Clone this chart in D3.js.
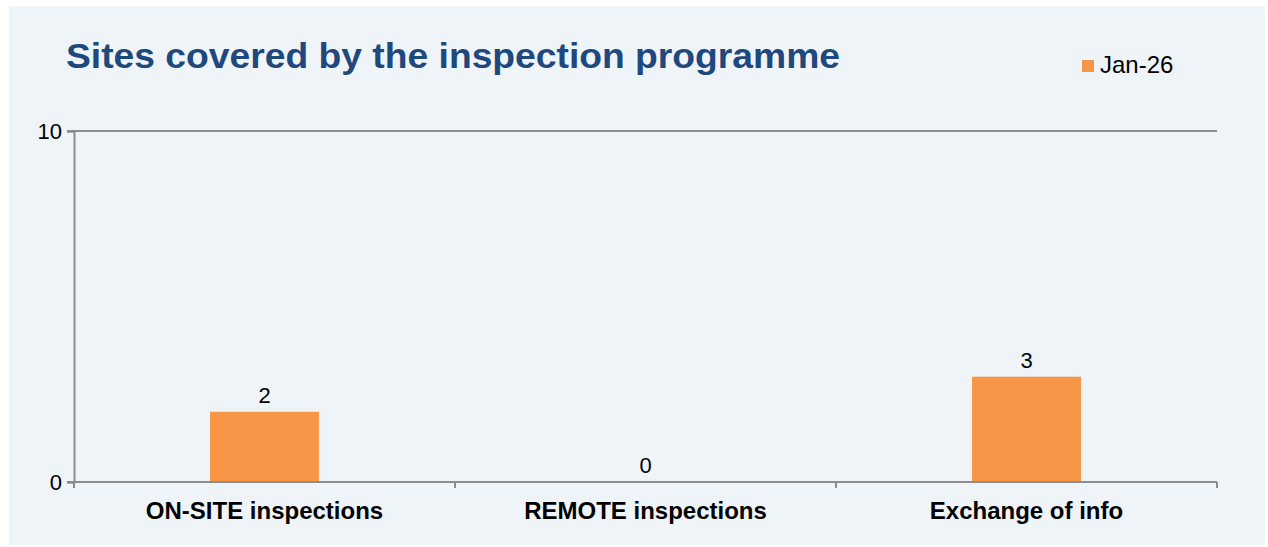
<!DOCTYPE html>
<html>
<head>
<meta charset="utf-8">
<script src="https://cdn.jsdelivr.net/npm/d3@7"></script>
<style>
  body { margin: 0; background: #fff; font-family: "Liberation Sans", Arial, sans-serif; }
</style>
</head>
<body>
<div id="container"></div>
<script>
// Data
const categories = ["ON-SITE inspections", "REMOTE inspections", "Exchange of info"];
const seriesName = "Jan-26";
const values = [2, 0, 3];
const yTicks = [0, 10];

const width = 1268;
const height = 547;
const margin = { left: 74, right: 51, top: 131, bottom: 65 };

const svg = d3.select("#container")
    .append("svg")
    .attr("width", width)
    .attr("height", height);

// Panel background
svg.append("rect")
    .attr("x", 9)
    .attr("y", 6)
    .attr("width", 1256)
    .attr("height", 539)
    .attr("fill", "#eff4f9");

const x = d3.scaleBand()
    .domain(categories)
    .range([margin.left, width - margin.right])
    .paddingInner(0.714)
    .paddingOuter(0.357);

const bandStep = (width - margin.right - margin.left) / categories.length;

const y = d3.scaleLinear()
    .domain([0, 10])
    .range([height - margin.bottom, margin.top]);

const axisColor = "#8c8c8c";

// Gridline at top value
svg.append("g")
    .selectAll("line")
    .data(yTicks.filter(d => d > 0))
    .join("line")
    .attr("x1", margin.left - 7)
    .attr("x2", width - margin.right)
    .attr("y1", d => y(d))
    .attr("y2", d => y(d))
    .attr("stroke", axisColor)
    .attr("stroke-width", 2);

// Bars
svg.append("g")
    .selectAll("rect")
    .data(values)
    .join("rect")
    .attr("x", (d, i) => x(categories[i]))
    .attr("y", d => y(d))
    .attr("width", x.bandwidth())
    .attr("height", d => y(0) - y(d))
    .attr("fill", "#f79646");

// Y axis
const yAxis = svg.append("g")
    .attr("transform", `translate(${margin.left},0)`)
    .call(d3.axisLeft(y).tickValues(yTicks).tickSize(7).tickPadding(5).tickFormat(d3.format("d")));
yAxis.select(".domain").attr("stroke", axisColor).attr("stroke-width", 2);
yAxis.selectAll(".tick line").attr("stroke", axisColor).attr("stroke-width", 2);
yAxis.selectAll(".tick text")
    .attr("fill", "#000")
    .style("font-family", "'Liberation Sans', Arial, sans-serif")
    .style("font-size", "22px");

// X axis line with ticks at category boundaries
const xBase = y(0);
svg.append("line")
    .attr("x1", margin.left - 7)
    .attr("x2", width - margin.right)
    .attr("y1", xBase)
    .attr("y2", xBase)
    .attr("stroke", axisColor)
    .attr("stroke-width", 2);

svg.append("g")
    .selectAll("line")
    .data(d3.range(categories.length + 1))
    .join("line")
    .attr("x1", i => margin.left + i * bandStep)
    .attr("x2", i => margin.left + i * bandStep)
    .attr("y1", xBase)
    .attr("y2", xBase + 6)
    .attr("stroke", axisColor)
    .attr("stroke-width", 2);

// Category labels
svg.append("g")
    .selectAll("text")
    .data(categories)
    .join("text")
    .attr("x", d => x(d) + x.bandwidth() / 2)
    .attr("y", xBase + 37)
    .attr("text-anchor", "middle")
    .style("font-size", "24px")
    .style("font-weight", "bold")
    .attr("fill", "#000")
    .text(d => d);

// Value labels
svg.append("g")
    .selectAll("text")
    .data(values)
    .join("text")
    .attr("x", (d, i) => x(categories[i]) + x.bandwidth() / 2)
    .attr("y", d => y(d) - 9)
    .attr("text-anchor", "middle")
    .style("font-size", "22px")
    .attr("fill", "#000")
    .text(d => d);

// Title
svg.append("text")
    .attr("x", 66)
    .attr("y", 68)
    .attr("textLength", 774)
    .attr("lengthAdjust", "spacingAndGlyphs")
    .style("font-size", "35px")
    .style("font-weight", "bold")
    .attr("fill", "#1f497d")
    .text("Sites covered by the inspection programme");

// Legend
const legend = svg.append("g").attr("transform", "translate(1082,60)");
legend.append("rect")
    .attr("width", 12)
    .attr("height", 12)
    .attr("fill", "#f79646");
legend.append("text")
    .attr("x", 18)
    .attr("y", 13)
    .style("font-size", "24px")
    .attr("fill", "#000")
    .text(seriesName);
</script>
</body>
</html>
